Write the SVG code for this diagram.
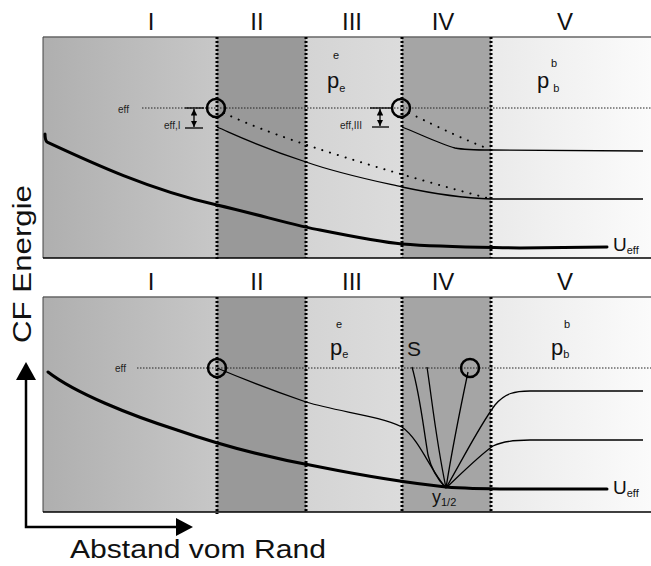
<svg xmlns="http://www.w3.org/2000/svg" width="651" height="566" viewBox="0 0 651 566">
<defs>
<linearGradient id="gI" x1="0" x2="1" y1="0" y2="0"><stop offset="0" stop-color="#afafaf"/><stop offset="1" stop-color="#c7c7c7"/></linearGradient>
<linearGradient id="gIII" x1="0" x2="1" y1="0" y2="0"><stop offset="0" stop-color="#d4d4d4"/><stop offset="1" stop-color="#dcdcdc"/></linearGradient>
<linearGradient id="gV" x1="0" x2="1" y1="0" y2="0"><stop offset="0" stop-color="#eaeaea"/><stop offset="1" stop-color="#fbfbfb"/></linearGradient>
<marker id="ah" viewBox="0 0 10 10" refX="10" refY="5" markerWidth="5" markerHeight="5" orient="auto-start-reverse"><path d="M0,0 L10,5 L0,10 z" fill="#000"/></marker>
</defs>
<style>
.num{font-family:"Liberation Sans",Arial,sans-serif;font-size:24px;fill:#111;text-anchor:middle}
.sm{font-family:"Liberation Sans",Arial,sans-serif;font-size:10px;fill:#222}
.lab{font-family:"Liberation Sans",Arial,sans-serif;fill:#111}
.vb{stroke:#000;stroke-width:3;stroke-dasharray:2 2;fill:none}
.hd{stroke:#222;stroke-width:1;stroke-dasharray:1.5 1.5;fill:none}
.thin{stroke:#000;stroke-width:1.3;fill:none}
.thick{stroke:#000;stroke-width:3;fill:none;stroke-linecap:round}
.dots{stroke:#000;stroke-width:2;stroke-dasharray:0.1 8;fill:none;stroke-linecap:round}
.circ{stroke:#000;stroke-width:2.5;fill:none}
.ax{stroke:#000;stroke-width:2.5;fill:none}
</style>

<g id="top-panel">
<rect x="43" y="37" width="174" height="221" fill="url(#gI)"/>
<rect x="217" y="37" width="89" height="221" fill="#999"/>
<rect x="306" y="37" width="96" height="221" fill="url(#gIII)"/>
<rect x="402" y="37" width="89" height="221" fill="#a5a5a5"/>
<rect x="491" y="37" width="160" height="221" fill="url(#gV)"/>
<line x1="43" y1="37" x2="651" y2="37" stroke="#666" stroke-width="1.5"/>
<line x1="43" y1="37" x2="43" y2="258" stroke="#444" stroke-width="1"/>
<line x1="43" y1="258" x2="651" y2="258" stroke="#000" stroke-width="1.5"/>
<line class="vb" x1="217" y1="37" x2="217" y2="260"/>
<line class="vb" x1="306" y1="37" x2="306" y2="258"/>
<line class="vb" x1="402" y1="37" x2="402" y2="258"/>
<line class="vb" x1="491" y1="37" x2="491" y2="258"/>
</g>

<g id="bottom-panel">
<rect x="43" y="297" width="174" height="215" fill="url(#gI)"/>
<rect x="217" y="297" width="89" height="215" fill="#999"/>
<rect x="306" y="297" width="96" height="215" fill="url(#gIII)"/>
<rect x="402" y="297" width="89" height="215" fill="#a5a5a5"/>
<rect x="491" y="297" width="160" height="215" fill="url(#gV)"/>
<line x1="43" y1="297" x2="651" y2="297" stroke="#666" stroke-width="1.5"/>
<line x1="43" y1="297" x2="43" y2="512" stroke="#444" stroke-width="1"/>
<line x1="43" y1="512" x2="651" y2="512" stroke="#000" stroke-width="1.5"/>
<line class="vb" x1="217" y1="297" x2="217" y2="514"/>
<line class="vb" x1="306" y1="297" x2="306" y2="512"/>
<line class="vb" x1="402" y1="297" x2="402" y2="512"/>
<line class="vb" x1="491" y1="297" x2="491" y2="512"/>
</g>

<g id="labels">
<text class="num" x="151" y="30">I</text>
<text class="num" x="257" y="30">II</text>
<text class="num" x="352" y="30">III</text>
<text class="num" x="443" y="30">IV</text>
<text class="num" x="565" y="30">V</text>
<text class="num" x="151" y="290">I</text>
<text class="num" x="257" y="290">II</text>
<text class="num" x="352" y="290">III</text>
<text class="num" x="443" y="290">IV</text>
<text class="num" x="565" y="290">V</text>

<text class="sm" x="118" y="113">eff</text>
<text class="sm" x="164" y="129">eff,I</text>
<text class="sm" x="340" y="129">eff,III</text>
<text class="sm" x="115" y="372">eff</text>

<text class="lab" x="333" y="59" font-size="11">e</text>
<text class="lab" x="327" y="88" font-size="22">p<tspan font-size="11" dx="0" dy="4">e</tspan></text>
<text class="lab" x="551" y="67" font-size="11">b</text>
<text class="lab" x="537" y="88" font-size="22">p<tspan font-size="11" dx="4" dy="4">b</tspan></text>

<text class="lab" x="336" y="328" font-size="11">e</text>
<text class="lab" x="330" y="355" font-size="22">p<tspan font-size="11" dx="0" dy="3">e</tspan></text>
<text class="lab" x="564" y="328" font-size="11">b</text>
<text class="lab" x="551" y="355" font-size="22">p<tspan font-size="11" dx="0" dy="3">b</tspan></text>
<text class="lab" x="407" y="356" font-size="21">S</text>

<text class="lab" x="613" y="251" font-size="19">U<tspan font-size="11" dy="3">eff</tspan></text>
<text class="lab" x="613" y="494" font-size="19">U<tspan font-size="11" dy="3">eff</tspan></text>
<text class="lab" x="432" y="503" font-size="18">y<tspan font-size="11" dy="3">1/2</tspan></text>

<text class="lab" x="70" y="558" font-size="26" textLength="256" lengthAdjust="spacingAndGlyphs">Abstand vom Rand</text>
<text class="lab" transform="translate(31,343) rotate(-90)" font-size="26" textLength="158" lengthAdjust="spacingAndGlyphs">CF Energie</text>
</g>

<g id="connectors">
<line class="hd" x1="142" y1="108" x2="651" y2="108"/>
<line class="hd" x1="137" y1="368" x2="651" y2="368"/>
<line x1="185" y1="108" x2="204" y2="108" stroke="#000" stroke-width="1.3"/>
<line x1="185" y1="128" x2="203" y2="128" stroke="#000" stroke-width="1.3"/>
<line x1="194" y1="109" x2="194" y2="127" stroke="#000" stroke-width="1.3" marker-start="url(#ah)" marker-end="url(#ah)"/>
<line x1="370" y1="108" x2="391" y2="108" stroke="#000" stroke-width="1.3"/>
<line x1="372" y1="127" x2="389" y2="127" stroke="#000" stroke-width="1.3"/>
<line x1="380" y1="109" x2="380" y2="126" stroke="#000" stroke-width="1.3" marker-start="url(#ah)" marker-end="url(#ah)"/>

<path class="thin" d="M217,127 C240,137 260,147 306,162 C340,174 380,182 402,187 C430,193 460,198 491,199 L643,199"/>
<path class="thin" d="M402,127 C420,134 440,144 455,148 C465,150 478,150 491,150 L643,151"/>
<path class="dots" d="M224,113 C280,140 400,175 491,199"/>
<path class="dots" d="M409,113 C440,128 465,140 489,149"/>
<path class="thick" d="M45,134 Q45,140 47,142 C90,162 150,190 217,205 C260,215 300,227 320,230 C360,238 380,242 402,244 C440,247 470,247 520,248 L607,247"/>
<circle class="circ" cx="216" cy="108" r="9"/>
<circle class="circ" cx="401" cy="108" r="9"/>

<path class="thin" d="M217,368 C250,382 280,393 306,402 C340,412 380,416 402,427 C420,440 430,470 446,488"/>
<path class="thin" d="M412,367 C420,395 423,425 428,455 C432,472 440,482 446,488"/>
<path class="thin" d="M427,367 C432,400 436,440 446,488"/>
<path class="thin" d="M468,372 C460,410 452,450 446,488"/>
<path class="thin" d="M446,488 C465,455 480,425 495,405 C505,393 515,391 530,391 L643,391"/>
<path class="thin" d="M446,488 C465,470 480,455 493,446 C503,441 515,440 530,440 L643,440"/>
<path class="thick" d="M48,372 C75,393 130,415 177,430 C220,445 270,458 320,467 C360,475 400,482 446,487 C470,489 490,489 520,489 L607,489"/>
<circle class="circ" cx="217" cy="368" r="9"/>
<circle class="circ" cx="470" cy="368" r="9"/>

<path class="ax" d="M26,380 L26,527 L178,527"/>
<path d="M26,362 L16,380 L36,380 z" fill="#000"/>
<path d="M193,527 L176,518 L176,536 z" fill="#000"/>
</g>
</svg>
